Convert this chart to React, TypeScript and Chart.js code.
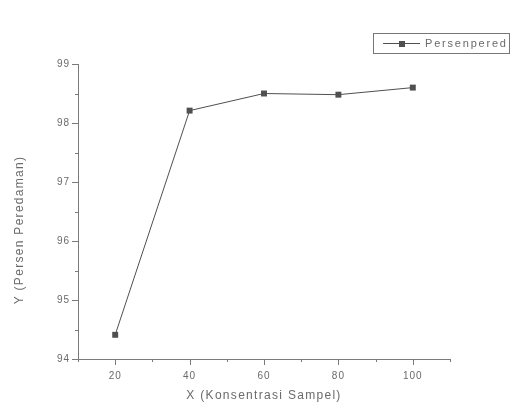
import React, { useEffect, useRef } from "react";
import { Chart, registerables } from "chart.js";

Chart.register(...registerables);

const xValues = [20, 40, 60, 80, 100];
const yValues = [94.41, 98.21, 98.5, 98.48, 98.6];
const seriesName = "Persenpered";
const xTitle = "X (Konsentrasi Sampel)";
const yTitle = "Y (Persen Peredaman)";
const xMin = 10, xMax = 110, xStep = 10, xLabelStep = 20;
const yMin = 94, yMax = 99, yStep = 0.5;

const FONT = "'Liberation Sans', Arial, sans-serif";
const TEXT = "#6a6a6a";
const AXIS = "#7a7a7a";
const LINE = "#505050";

export default function App() {
  const ref = useRef<HTMLCanvasElement | null>(null);
  useEffect(() => {
    if (!ref.current) return;
    const custom = {
      id: "custom",
      beforeDraw(chart: any) {
        const ctx = chart.ctx;
        ctx.save();
        ctx.fillStyle = "#ffffff";
        ctx.fillRect(0, 0, chart.width, chart.height);
        ctx.restore();
        (ctx as any).letterSpacing = "1px";
      },
      afterDraw(chart: any) {
        const ctx = chart.ctx;
        const xs = chart.scales.x;
        const ys = chart.scales.y;
        const ca = chart.chartArea;
        ctx.save();
        ctx.strokeStyle = AXIS;
        ctx.lineWidth = 1;
        ctx.beginPath();
        for (let v = xMin; v <= xMax + 1e-9; v += xStep) {
          const px = Math.round(xs.getPixelForValue(v)) + 0.5;
          const len = v % xLabelStep === 0 ? 6 : 3;
          ctx.moveTo(px, ca.bottom);
          ctx.lineTo(px, ca.bottom + len);
        }
        for (let v = yMin; v <= yMax + 1e-9; v += yStep) {
          const py = Math.round(ys.getPixelForValue(v)) + 0.5;
          const len = Math.abs(v - Math.round(v)) < 1e-6 ? 6 : 3;
          ctx.moveTo(ca.left, py);
          ctx.lineTo(ca.left - len, py);
        }
        ctx.stroke();

        // titles
        ctx.fillStyle = TEXT;
        (ctx as any).letterSpacing = "1.3px";
        ctx.font = `12px ${FONT}`;
        ctx.textAlign = "center";
        ctx.textBaseline = "middle";
        ctx.fillText(xTitle, (ca.left + ca.right) / 2, 396);
        ctx.save();
        ctx.translate(20, 230);
        ctx.rotate(-Math.PI / 2);
        ctx.fillText(yTitle, 0, 0);
        ctx.restore();

        // legend
        const lx = 373, ly = 33, lw = 136, lh = 20;
        ctx.strokeStyle = "#777";
        ctx.strokeRect(lx + 0.5, ly + 0.5, lw, lh);
        ctx.strokeStyle = LINE;
        ctx.beginPath();
        ctx.moveTo(383, ly + 10.5);
        ctx.lineTo(420, ly + 10.5);
        ctx.stroke();
        ctx.fillStyle = LINE;
        ctx.fillRect(399, ly + 8, 6, 6);
        ctx.fillStyle = TEXT;
        (ctx as any).letterSpacing = "1.8px";
        ctx.font = `11px ${FONT}`;
        ctx.textAlign = "left";
        ctx.fillText(seriesName, 425, ly + 11);
        ctx.restore();
      },
    };
    const chart = new Chart(ref.current, {
      type: "line",
      data: {
        datasets: [
          {
            label: seriesName,
            data: xValues.map((x, i) => ({ x, y: yValues[i] })),
            borderColor: LINE,
            borderWidth: 1,
            pointStyle: "rect",
            pointRadius: 4.2,
            pointBackgroundColor: LINE,
            pointBorderColor: LINE,
            pointBorderWidth: 0,
            tension: 0,
          },
        ],
      },
      options: {
        responsive: false,
        animation: false,
        devicePixelRatio: 1,
        layout: { padding: { left: 0, top: 64, right: 67, bottom: 0 } },
        plugins: { legend: { display: false }, tooltip: { enabled: false } },
        scales: {
          x: {
            type: "linear",
            min: xMin,
            max: xMax,
            grid: { display: false, drawTicks: false },
            border: { display: true, color: AXIS, width: 1 },
            ticks: {
              stepSize: xStep,
              padding: 11,
              color: TEXT,
              font: { family: FONT, size: 10 },
              maxRotation: 0,
              autoSkip: false,
              callback: (v: any) =>
                v % xLabelStep === 0 && v >= 20 && v <= 100 ? String(v) : "",
            },
            afterFit: (s: any) => {
              s.height = 403 - 359;
            },
          },
          y: {
            type: "linear",
            min: yMin,
            max: yMax,
            grid: { display: false, drawTicks: false },
            border: { display: true, color: AXIS, width: 1 },
            ticks: {
              stepSize: yStep,
              padding: 8,
              color: TEXT,
              font: { family: FONT, size: 10 },
              autoSkip: false,
              callback: (v: any) =>
                Math.abs(v - Math.round(v)) < 1e-6 ? String(v) : "",
            },
            afterFit: (s: any) => {
              s.width = 78;
            },
          },
        },
      },
      plugins: [custom],
    });
    return () => chart.destroy();
  }, []);
  return (
    <div style={{ position: "absolute", left: 0, top: 0, width: 517, height: 403 }}>
      <canvas ref={ref} width={517} height={403} style={{ display: "block" }} />
    </div>
  );
}
